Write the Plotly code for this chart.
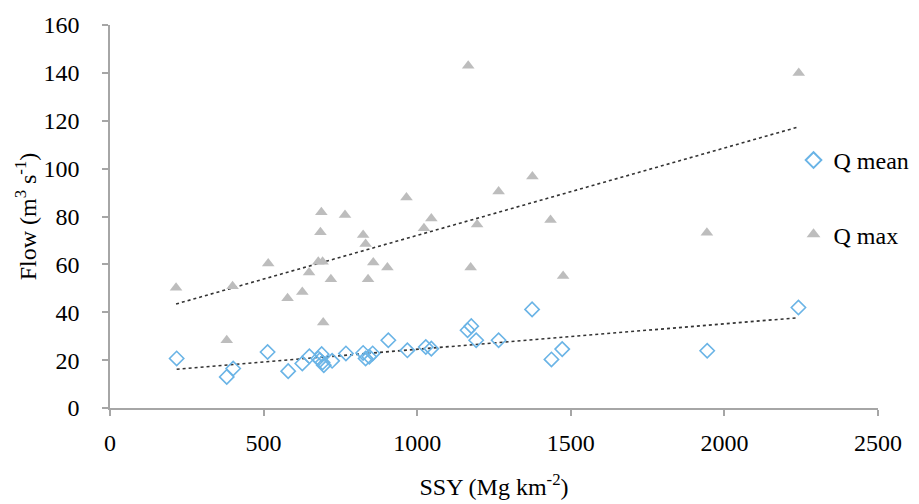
import numpy as np
import plotly.graph_objects as go

ssy_mean = [217, 380, 401, 513, 580, 626, 649, 678, 683, 689, 692, 696, 723, 768, 824, 832, 844, 855,
            906, 968, 1028, 1046, 1164, 1176, 1192, 1265, 1374, 1437, 1472, 1944, 2241]
q_mean = [20.7, 13.0, 16.5, 23.4, 15.4, 18.6, 21.6, 20.7, 20.0, 22.5, 19.0, 17.9, 19.7, 22.8, 23.0, 20.7, 21.4, 22.8,
          28.3, 24.1, 25.5, 24.8, 32.5, 34.2, 28.3, 28.3, 41.2, 20.3, 24.6, 23.9, 42.0]

ssy_max = [215, 380, 399, 515, 578, 626, 648, 678, 685, 688, 692, 694, 719, 765, 824, 832, 840, 857,
           903, 965, 1022, 1046, 1166, 1174, 1195, 1265, 1375, 1434, 1475, 1943, 2242]
q_max = [50.2, 28.3, 50.9, 60.4, 45.8, 48.5, 56.6, 61.1, 73.4, 81.8, 61.1, 35.7, 53.8, 80.6, 72.3, 68.5, 53.8, 60.8,
         58.7, 87.9, 75.1, 79.2, 143.0, 58.7, 76.7, 90.4, 96.7, 78.5, 55.1, 73.2, 139.9]

font = "Liberation Serif"
fs = 24
fig = go.Figure()

def trend(xs, ys):
    m, b = np.polyfit(xs, ys, 1)
    x0, x1 = min(xs), max(xs)
    return [x0, x1], [m * x0 + b, m * x1 + b]

tx, ty = trend(ssy_mean, q_mean)
fig.add_trace(go.Scatter(x=tx, y=ty, mode="lines", showlegend=False, hoverinfo="skip",
                         line=dict(color="#333333", width=1.6, dash="dot")))
tx, ty = trend(ssy_max, q_max)
fig.add_trace(go.Scatter(x=tx, y=ty, mode="lines", showlegend=False, hoverinfo="skip",
                         line=dict(color="#333333", width=1.6, dash="dot")))

fig.add_trace(go.Scatter(x=ssy_mean, y=q_mean, mode="markers", name="Q mean", legendgroup="a",
                         marker=dict(symbol="diamond-open", size=11, color="#6AB4E6", line=dict(width=1.6))))
fig.add_trace(go.Scatter(x=ssy_max, y=q_max, mode="markers", name="Q max", legendgroup="b",
                         marker=dict(symbol="triangle-up", size=11, color="#BDBDBD")))

axis_common = dict(showline=True, linecolor="#A6A6A6", linewidth=1.5, ticks="outside", ticklen=6,
                   tickcolor="#A6A6A6", tickwidth=1.5, showgrid=False, zeroline=False, automargin=False,
                   tickfont=dict(family=font, size=fs, color="#000000"))

fig.update_layout(
    width=919, height=504, autosize=False,
    margin=dict(l=110, r=41, t=25, b=96, autoexpand=False),
    paper_bgcolor="white", plot_bgcolor="white",
    font=dict(family=font, size=fs, color="#000000"),
    xaxis=dict(range=[0, 2500], dtick=500, ticklabelstandoff=6,
               title=dict(text="SSY (Mg km<sup>-2</sup>)", font=dict(family=font, size=fs), standoff=24),
               **axis_common),
    yaxis=dict(range=[0, 160], dtick=20, ticklabelstandoff=18,
               title=dict(text="Flow (m<sup>3</sup> s<sup>-1</sup>)", font=dict(family=font, size=fs), standoff=0),
               **axis_common),
    legend=dict(x=0.89, y=0.705, xanchor="left", yanchor="top", tracegroupgap=40,
                traceorder="grouped", font=dict(family=font, size=fs), itemwidth=30,
                itemsizing="constant", bgcolor="rgba(0,0,0,0)"),
)

post = ("document.body.style.margin='0';document.body.style.overflow='hidden';"
        "var gd=document.getElementById('{plot_id}');Plotly.relayout(gd,{width:919,height:504});")
fig.write_html("out.html", config={"responsive": False, "displayModeBar": False}, post_script=post)
